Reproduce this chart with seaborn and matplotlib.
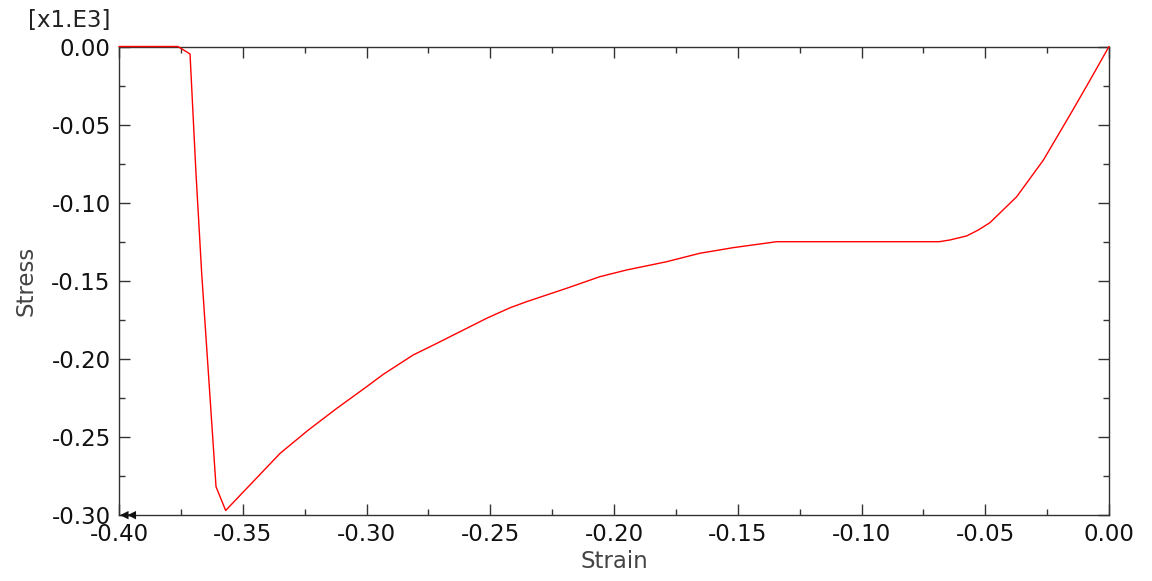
import numpy as np
import pandas as pd
import matplotlib
matplotlib.use('Agg')
import matplotlib.pyplot as plt
from matplotlib.ticker import MultipleLocator, FormatStrFormatter
import seaborn as sns

sns.set_style('ticks')
plt.rcParams['font.family'] = ['DejaVu Sans']
plt.rcParams['axes.unicode_minus'] = False

# curve values (stress in units of 1e3)
strain = [-0.400, -0.3762, -0.3713, -0.3689, -0.3666, -0.3632, -0.3608, -0.3569,
          -0.3349, -0.3235, -0.3120, -0.2999, -0.2932, -0.2811, -0.2716, -0.2622,
          -0.2514, -0.2420, -0.2353, -0.2191, -0.2057, -0.1949, -0.1787, -0.1653,
          -0.1518, -0.1343, -0.0686, -0.0643, -0.0575, -0.0528, -0.0481, -0.0373,
          -0.0265, -0.0158, -0.0084, 0.000]
stress = [0.000, 0.000, -0.0048, -0.0810, -0.1450, -0.2251, -0.2819, -0.2971,
          -0.2605, -0.2456, -0.2317, -0.2178, -0.2099, -0.1975, -0.1901, -0.1826,
          -0.1740, -0.1673, -0.1634, -0.1548, -0.1474, -0.1431, -0.1378, -0.1324,
          -0.1288, -0.1250, -0.1250, -0.1239, -0.1213, -0.1175, -0.1128, -0.0962,
          -0.0727, -0.0439, -0.0236, 0.000]

x_ticks = [-0.40, -0.35, -0.30, -0.25, -0.20, -0.15, -0.10, -0.05, 0.00]
y_ticks = [-0.30, -0.25, -0.20, -0.15, -0.10, -0.05, 0.00]

df = pd.DataFrame({'Strain': strain, 'Stress': stress})

fig = plt.figure(figsize=(11.52, 5.81), dpi=100)
ax = fig.add_axes([119 / 1152, 1 - 515 / 581, 990 / 1152, 468.5 / 581])

sns.lineplot(data=df, x='Strain', y='Stress', ax=ax, color='#ff0000',
             linewidth=1.0, estimator=None, sort=False)
for ln in ax.get_lines():
    ln.set_zorder(3)
    ln.set_clip_on(False)

ax.set_xlim(x_ticks[0], x_ticks[-1])
ax.set_ylim(y_ticks[0], y_ticks[-1])
ax.set_xticks(x_ticks)
ax.set_yticks(y_ticks)
ax.xaxis.set_major_formatter(FormatStrFormatter('%.2f'))
ax.yaxis.set_major_formatter(FormatStrFormatter('%.2f'))
ax.xaxis.set_minor_locator(MultipleLocator(0.025))
ax.yaxis.set_minor_locator(MultipleLocator(0.025))

edge = '#333333'
for sp in ax.spines.values():
    sp.set_visible(True)
    sp.set_color(edge)
    sp.set_linewidth(1.0)

ax.tick_params(which='both', direction='in', top=True, right=True,
               color=edge, width=1.0)
ax.tick_params(which='major', length=8, pad=6, labelsize=16.5, labelcolor='#111111')
ax.tick_params(which='minor', length=4)

ax.set_xlabel('Strain', fontsize=16.5, color='#444444', labelpad=3)
ax.set_ylabel('Stress', fontsize=16.5, color='#444444', labelpad=10)

# multiplier label above the y axis
ax.text(-0.009, 1.0 + 26 / 468.5, '[x1.E3]', transform=ax.transAxes,
        ha='right', va='center', fontsize=16.5, color='#222222')

# small origin marker like in the source tool
ax.text(0.001, 0.0, '\u25c0\u25c0', transform=ax.transAxes, ha='left',
        va='center', fontsize=8, color='#111111')

fig.savefig('out.png', dpi=100, facecolor='white')
